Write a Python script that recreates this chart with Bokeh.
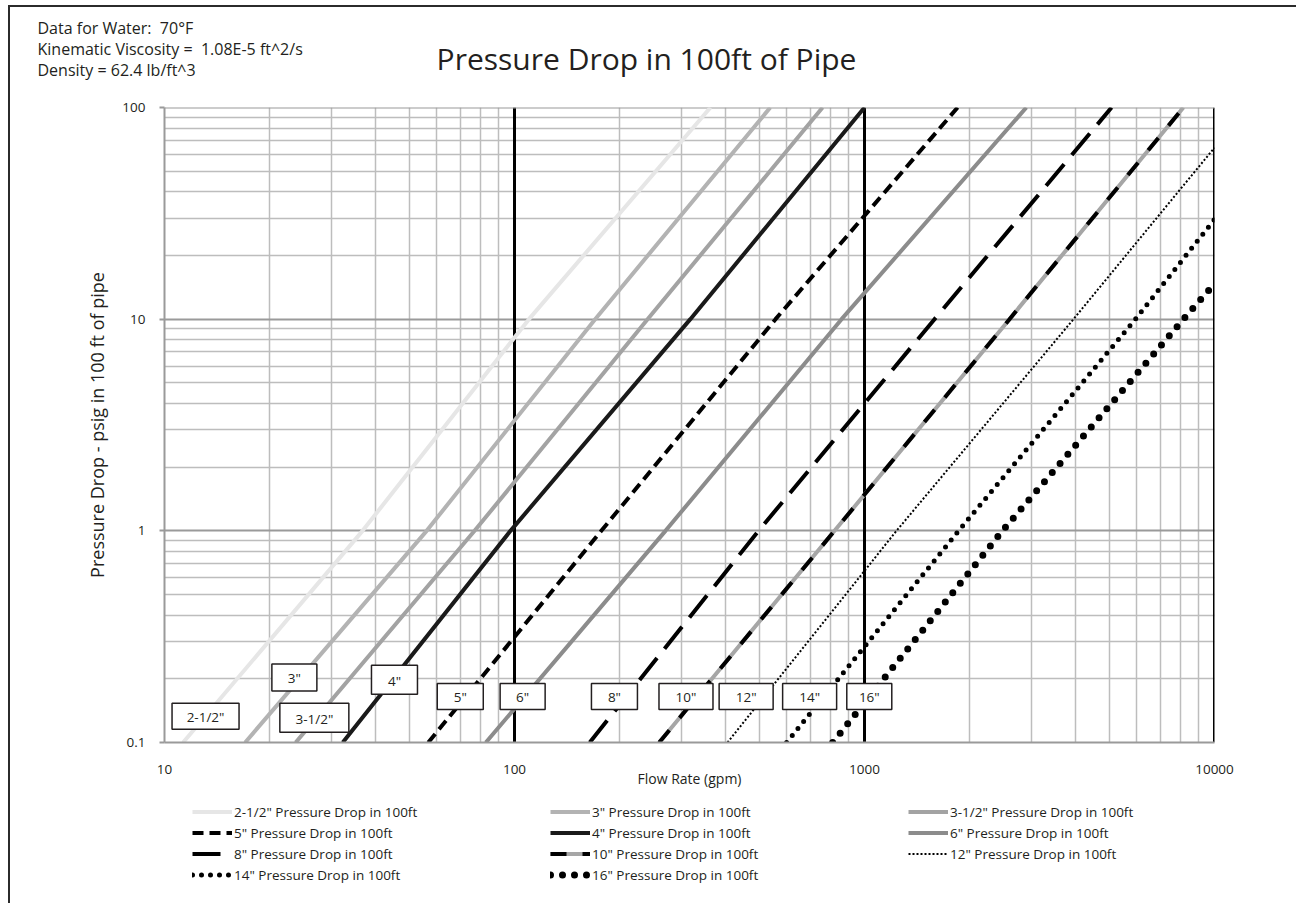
from bokeh.plotting import figure
from bokeh.layouts import column
from bokeh.models import FixedTicker, Span, Label, Legend, LegendItem, ColumnDataSource
from bokeh.core.properties import value
from bokeh.embed import file_html
from bokeh.resources import INLINE

FONT = "Open Sans"
TXT = "#231f20"

# ---------------- data ----------------
pipe_sizes = ['2-1/2"', '3"', '3-1/2"', '4"', '5"', '6"', '8"', '10"', '12"', '14"', '16"']

# flow rate (gpm) at which each curve crosses the given pressure drops (psig / 100 ft)
flow_2_5 = [11.3, 36.8, 110, 363]
dp_2_5 = [0.1, 1, 10, 100]
flow_3 = [17.0, 56.1, 170, 538]
dp_3 = [0.1, 1, 10, 100]
flow_3_5 = [23.7, 76.9, 240, 759]
dp_3_5 = [0.1, 1, 10, 100]
flow_4 = [32.3, 97.4, 318, 1000]
dp_4 = [0.1, 1, 10, 100]
flow_5 = [56.7, 177, 557, 1845]
dp_5 = [0.1, 1, 10, 100]
flow_6 = [82.8, 270, 860, 2900]
dp_6 = [0.1, 1, 10, 100]
flow_8 = [164, 498, 1585, 5080]
dp_8 = [0.1, 1, 10, 100]
flow_10 = [259, 821, 2596, 8150]
dp_10 = [0.1, 1, 10, 100]
flow_12 = [406, 1234, 3955, 10000]
dp_12 = [0.1, 1, 10, 64.6]
flow_14 = [599, 1857, 5945, 10000]
dp_14 = [0.1, 1, 10, 29.6]
flow_16 = [811, 2478, 8155, 10000]
dp_16 = [0.1, 1, 10, 14.7]

x_ticks = [10, 100, 1000, 10000]
y_ticks = [0.1, 1, 10, 100]
x_tick_labels = ["10", "100", "1000", "10000"]
y_tick_labels = ["0.1", "1", "10", "100"]

title_text = "Pressure Drop in 100ft of Pipe"
notes = ["Data for Water:\u00a0 70°F",
         "Kinematic Viscosity =\u00a0 1.08E-5 ft^2/s",
         "Density = 62.4 lb/ft^3"]
legend_order = ['2-1/2"', '3"', '3-1/2"', '5"', '4"', '6"', '8"', '10"', '12"', '14"', '16"']

# ---------------- label box placement (gpm, psi) ----------------
label_flow = [13.1, 23.5, 26.8, 45.4, 70.0, 105.5, 193, 309, 459, 697, 1032]
label_dp = [0.133, 0.203, 0.131, 0.198, 0.165, 0.165, 0.165, 0.165, 0.165, 0.165, 0.165]
label_w = [67, 45, 69, 46, 46, 45, 46, 54, 54, 54, 45]
label_h = [26, 27, 29, 29, 26, 26, 26, 26, 26, 26, 26]

x_minor = [m * 10 ** k for k in range(1, 4) for m in range(2, 10)]
y_minor = [m * 10.0 ** k for k in range(-1, 2) for m in range(2, 10)]

series = {
    '2-1/2"': (flow_2_5, dp_2_5), '3"': (flow_3, dp_3), '3-1/2"': (flow_3_5, dp_3_5),
    '4"': (flow_4, dp_4), '5"': (flow_5, dp_5), '6"': (flow_6, dp_6), '8"': (flow_8, dp_8),
    '10"': (flow_10, dp_10), '12"': (flow_12, dp_12), '14"': (flow_14, dp_14), '16"': (flow_16, dp_16),
}

W = 4
styles = {
    '2-1/2"': [dict(line_color="#e6e6e6", line_width=W)],
    '3"': [dict(line_color="#b3b3b3", line_width=W)],
    '3-1/2"': [dict(line_color="#a3a3a3", line_width=W)],
    '4"': [dict(line_color="#1a1a1a", line_width=W)],
    '5"': [dict(line_color="#000000", line_width=W, line_dash="11 6")],
    '6"': [dict(line_color="#8c8c8c", line_width=W)],
    '8"': [dict(line_color="#000000", line_width=W, line_dash="28 12")],
    '10"': [dict(line_color="#a6a6a6", line_width=W),
            dict(line_color="#000000", line_width=W, line_dash="16 16")],
    '12"': [dict(line_color="#000000", line_width=2, line_dash="2 2")],
    '14"': [dict(line_color="#000000", line_width=5, line_dash="0 9", line_cap="round")],
    '16"': [dict(line_color="#000000", line_width=7, line_dash="0 12", line_cap="round")],
}

# ---------------- header strip (notes + title) ----------------
head = figure(width=1288, height=85, x_range=(0, 1), y_range=(0, 1),
              x_axis_location=None, y_axis_location=None, min_border=0,
              output_backend="svg", toolbar_location=None)
head.frame_align = False
head.outline_line_color = None
head.grid.visible = False
head.add_layout(Label(x=636, y=34, x_units="screen", y_units="screen",
                      text=title_text, text_align="center", text_baseline="middle",
                      text_font=FONT, text_font_size="30px", text_color=TXT))
for i, t in enumerate(notes):
    head.add_layout(Label(x=27, y=65 - 21 * i, x_units="screen", y_units="screen",
                          text=t, text_align="left", text_baseline="middle",
                          text_font=FONT, text_font_size="16px", text_color=TXT))

# ---------------- main chart ----------------
p = figure(width=1288, height=706, x_axis_type="log", y_axis_type="log",
           x_range=(10, 10000), y_range=(0.1, 100),
           output_backend="svg", toolbar_location=None,
           min_border_left=154, min_border_right=84, min_border_top=15, min_border_bottom=56)
p.frame_align = False
p.outline_line_color = None
p.background_fill_color = "white"
p.border_fill_color = "white"

GRID_MINOR = "#bdbdbd"
GRID_MAJOR = "#9a9a9a"

for ax, ticks, minor, labels in ((p.xaxis, x_ticks, x_minor, x_tick_labels),
                                 (p.yaxis, y_ticks, y_minor, y_tick_labels)):
    ax.ticker = FixedTicker(ticks=ticks, minor_ticks=minor)
    ax.major_label_overrides = {t: l for t, l in zip(ticks, labels)}
    ax.axis_line_color = GRID_MAJOR
    ax.axis_line_width = 2
    ax.minor_tick_in = 0
    ax.minor_tick_out = 0
    ax.major_tick_in = 0
    ax.major_label_text_font = FONT
    ax.major_label_text_font_size = "13.5px"
    ax.major_label_text_color = TXT
    ax.axis_label_text_font = FONT
    ax.axis_label_text_font_style = "normal"
    ax.axis_label_text_color = TXT

p.xaxis.major_tick_out = 0
p.xaxis.major_label_standoff = 22
p.xaxis.axis_label = "Flow Rate (gpm)"
p.xaxis.axis_label_text_font_size = "14px"
p.xaxis.axis_label_standoff = -8

p.yaxis.major_tick_out = 5
p.yaxis.major_tick_line_color = GRID_MAJOR
p.yaxis.major_tick_line_width = 2
p.yaxis.major_label_standoff = 14
p.yaxis.axis_label = "Pressure Drop - psig in 100 ft of pipe"
p.yaxis.axis_label_text_font_size = "18px"
p.yaxis.axis_label_standoff = 10

p.xgrid.grid_line_color = GRID_MAJOR
p.xgrid.grid_line_width = 2
p.xgrid.minor_grid_line_color = GRID_MINOR
p.xgrid.minor_grid_line_width = 1.5
p.ygrid.grid_line_color = GRID_MAJOR
p.ygrid.grid_line_width = 2
p.ygrid.minor_grid_line_color = GRID_MINOR
p.ygrid.minor_grid_line_width = 1.5

for xv in x_ticks[1:]:
    p.add_layout(Span(location=xv, dimension="height", line_color="#000000", line_width=3, level="underlay"))
p.add_layout(Span(location=y_ticks[-1], dimension="width", line_color=GRID_MAJOR, line_width=2, level="underlay"))

for k in pipe_sizes:
    fx, fy = series[k]
    for st in styles[k]:
        p.line(fx, fy, **st)

# ---------------- size label boxes ----------------
src = ColumnDataSource(dict(x=label_flow, y=label_dp, w=label_w, h=label_h, t=pipe_sizes))
p.rect(x="x", y="y", width="w", height="h", width_units="screen", height_units="screen",
       source=src, fill_color="white", line_color=TXT, line_width=1.5)
p.text(x="x", y="y", text="t", source=src, text_align="center", text_baseline="middle",
       text_font=value(FONT), text_font_size="13.5px", text_color=TXT, y_offset=1)

# ---------------- legend strip ----------------
# the legend strip has its own 0..1 ranges, so the series drawn here fall outside
# its frame and only their legend swatches are visible
leg = figure(width=1288, height=107, x_range=(0, 1), y_range=(0, 1),
             x_axis_location=None, y_axis_location=None, min_border=0,
             output_backend="svg", toolbar_location=None)
leg.frame_align = False
leg.outline_line_color = None
leg.grid.visible = False
items = []
for k in legend_order:
    fx, fy = series[k]
    rs = [leg.line(fx, fy, **st) for st in styles[k]]
    items.append(LegendItem(label=f"{k} Pressure Drop in 100ft", renderers=rs))
legend = Legend(items=items, location=(182, 20), orientation="horizontal", ncols=3,
                label_width=316, glyph_width=40, glyph_height=21, label_height=21,
                spacing=0, padding=0, margin=0, label_standoff=2,
                border_line_color=None, background_fill_alpha=0,
                label_text_font=FONT, label_text_font_size="13.5px", label_text_color=TXT)
leg.add_layout(legend, "center")

lay = column(head, p, leg, spacing=0)
lay.margin = (7, 0, 0, 10)
lay.styles = {"box-shadow": "-2px -2px 0 0 #2b2b2b"}

open("out.html", "w").write(file_html(lay, INLINE))
